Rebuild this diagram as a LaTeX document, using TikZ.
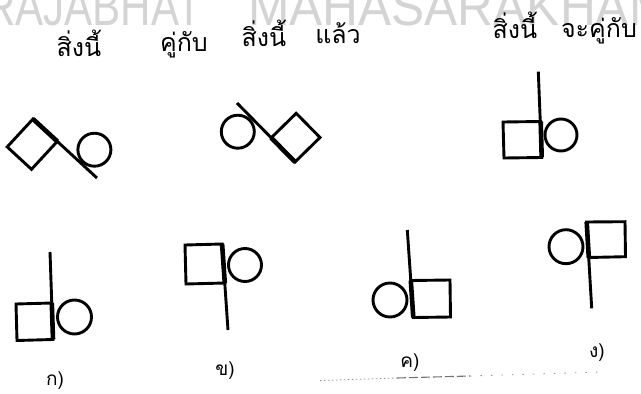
\documentclass[tikz,border=0pt]{standalone}
\usepackage{fontspec}
\setmainfont{Liberation Sans}
\newfontfamily\thaifont[Script=Thai]{Loma}
\begin{document}
\begin{tikzpicture}[x=1pt,y=-1pt,
  fig/.style={line width=2.9pt, line join=miter, line cap=butt},
  edge/.style={line width=4.6pt, line cap=butt},
  wm/.style={anchor=base west, inner sep=0pt, text=black!17, font=\fontsize{54}{54}\selectfont},
  th/.style={anchor=base, inner sep=0pt, font=\thaifont\fontsize{25}{25}\selectfont},
  lab/.style={anchor=base, inner sep=0pt, font=\thaifont\fontsize{19}{19}\selectfont}]
\useasboundingbox (0,0) rectangle (641,394);
\fill[white] (0,0) rectangle (641,394);
% watermark
\node[wm, xscale=0.78] (wm1) at (-15,25) {RAJABHAT};
\node[wm, xscale=0.92] (wm2) at (248,25) {MAHASARAKHAM};
% headings
\node[th] (t1) at (79,56) {สิ่งนี้};
\node[th] (t2) at (184,51) {คู่กับ};
\node[th] (t3) at (264,46) {สิ่งนี้};
\node[th] (t4) at (338,43) {แล้ว};
\node[th] (t5) at (515,38) {สิ่งนี้};
\node[th] (t6) at (599,37) {จะคู่กับ};
% figure 1 (top left)
\draw[fig] (33,119) -- (97,178);
\draw[fig] (33,119) -- (57.3,141.4) -- (31.5,169.3) -- (7.2,146.9) -- cycle;
\draw[edge] (33,119) -- (57.3,141.4);
\draw[fig] (94.4,149.7) circle[radius=16.5];
% figure 2 (top middle)
\draw[fig] (237,103) -- (295,162);
\draw[fig] (295,162) -- (271.2,137.8) -- (296.2,113.3) -- (320,137.5) -- cycle;
\draw[edge] (295,162) -- (271.2,137.8);
\draw[fig] (237.8,131.7) circle[radius=16.5];
% figure 3 (top right)
\draw[fig] (538.3,71.7) -- (541.7,157);
\draw[fig] (503,122) -- (540.7,121.5) -- (541.7,157.5) -- (504,158) -- cycle;
\draw[edge] (540.7,121.5) -- (541.7,157.5);
\draw[fig] (561,135) circle[radius=16];
% figure ko
\draw[fig] (50,252) -- (53,339);
\draw[fig] (16,304) -- (51.8,303) -- (53,339.5) -- (17,340.5) -- cycle;
\draw[edge] (51.8,303) -- (53,339.5);
\draw[fig] (74.5,317) circle[radius=17];
\node[lab] (l1) at (55,385) {ก)};
% figure kho
\draw[fig] (222,243) -- (228,330);
\draw[fig] (185,245) -- (222.1,244) -- (224.8,283) -- (186,284) -- cycle;
\draw[edge] (222.1,244) -- (224.8,283);
\draw[fig] (245,265) circle[radius=16.5];
\node[lab] (l2) at (225,375) {ข)};
% figure kho khwai
\draw[fig] (407.3,230) -- (413.3,317);
\draw[fig] (410.8,280.5) -- (450,280) -- (450.5,317) -- (413.3,317.5) -- cycle;
\draw[edge] (410.8,280.5) -- (413.3,317.5);
\draw[fig] (390,300) circle[radius=17];
\node[lab] (l3) at (410,367) {ค)};
% figure ngo
\draw[fig] (586.7,223) -- (591.7,308.3);
\draw[fig] (586.7,222) -- (625,221.7) -- (625.5,256.7) -- (588.8,257.5) -- cycle;
\draw[edge] (586.7,222) -- (588.8,257.5);
\draw[fig] (566,246.7) circle[radius=17];
\node[lab] (l4) at (597,357) {ง)};
% scan artefact line
\coordinate (s0) at (320,380.5);
\coordinate (s1) at (397,378);
\coordinate (s2) at (470,376);
\coordinate (s3) at (600,372);
\draw[black!45, line width=0.8pt, dash pattern=on 1.5pt off 2.5pt] (s0) -- (s1);
\draw[black!55, line width=1.1pt, dash pattern=on 9pt off 3pt] (s1) -- (s2);
\draw[black!40, line width=0.9pt, dash pattern=on 1.5pt off 9pt] (s2) -- (s3);
\end{tikzpicture}
\end{document}
